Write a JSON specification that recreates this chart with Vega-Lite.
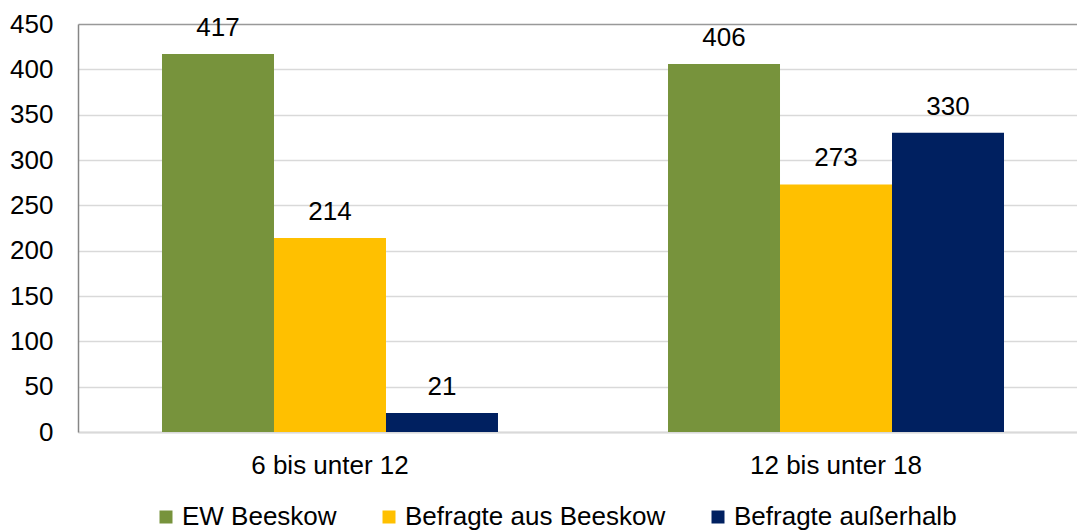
{
  "$schema": "https://vega.github.io/schema/vega-lite/v6.json",
  "autosize": {"type": "none"},
  "padding": {"left": 78, "top": 24, "right": 0, "bottom": 98},
  "width": 999,
  "height": 408,
  "background": "white",
  "config": {
    "view": {"stroke": null},
    "font": "Liberation Sans",
    "axis": {"labelFont": "Liberation Sans", "labelColor": "#000000", "ticks": false, "title": null}
  },
  "data": {
    "values": [
      {"gruppe": "6 bis unter 12", "serie": "EW Beeskow", "wert": 417},
      {"gruppe": "6 bis unter 12", "serie": "Befragte aus Beeskow", "wert": 214},
      {"gruppe": "6 bis unter 12", "serie": "Befragte außerhalb", "wert": 21},
      {"gruppe": "12 bis unter 18", "serie": "EW Beeskow", "wert": 406},
      {"gruppe": "12 bis unter 18", "serie": "Befragte aus Beeskow", "wert": 273},
      {"gruppe": "12 bis unter 18", "serie": "Befragte außerhalb", "wert": 330}
    ]
  },
  "encoding": {
    "x": {
      "field": "gruppe", "type": "nominal", "sort": ["6 bis unter 12", "12 bis unter 18"],
      "scale": {"paddingInner": 0.336, "paddingOuter": 0.166, "range": [0, 1010]},
      "axis": {"labelAngle": 0, "labelFontSize": 26, "labelBaseline": "alphabetic", "labelPadding": 41, "domainColor": "#d9d9d9", "domainWidth": 2, "grid": false}
    },
    "xOffset": {"field": "serie", "type": "nominal", "sort": ["EW Beeskow", "Befragte aus Beeskow", "Befragte außerhalb"]},
    "y": {
      "field": "wert", "type": "quantitative",
      "scale": {"domain": [0, 450], "nice": false},
      "axis": {
        "values": [0, 50, 100, 150, 200, 250, 300, 350, 400, 450],
        "labelFontSize": 26, "labelPadding": 25,
        "domainColor": "#868686", "domainWidth": 1.5,
        "gridColor": {"condition": {"test": "datum.value == 450", "value": "#999999"}, "value": "#d9d9d9"},
        "gridWidth": {"condition": {"test": "datum.value == 450", "value": 1.5}, "value": 1.3}
      }
    }
  },
  "layer": [
    {
      "mark": {"type": "bar"},
      "encoding": {
        "color": {
          "field": "serie", "type": "nominal",
          "sort": ["EW Beeskow", "Befragte aus Beeskow", "Befragte außerhalb"],
          "scale": {"domain": ["EW Beeskow", "Befragte aus Beeskow", "Befragte außerhalb"], "range": ["#77933C", "#FFC000", "#002060"]},
          "legend": {
            "title": null, "orient": "none", "direction": "horizontal",
            "legendX": 75, "legendY": 480,
            "symbolType": "square", "symbolSize": 169, "symbolStrokeWidth": 0,
            "labelFontSize": 26, "labelFont": "Liberation Sans", "labelColor": "#000000",
            "labelOffset": 3, "columnPadding": 39, "labelLimit": 400
          }
        }
      }
    },
    {
      "mark": {"type": "text", "baseline": "alphabetic", "dy": -18, "fontSize": 26, "font": "Liberation Sans", "color": "#000000"},
      "encoding": {"text": {"field": "wert", "type": "quantitative"}}
    }
  ]
}
